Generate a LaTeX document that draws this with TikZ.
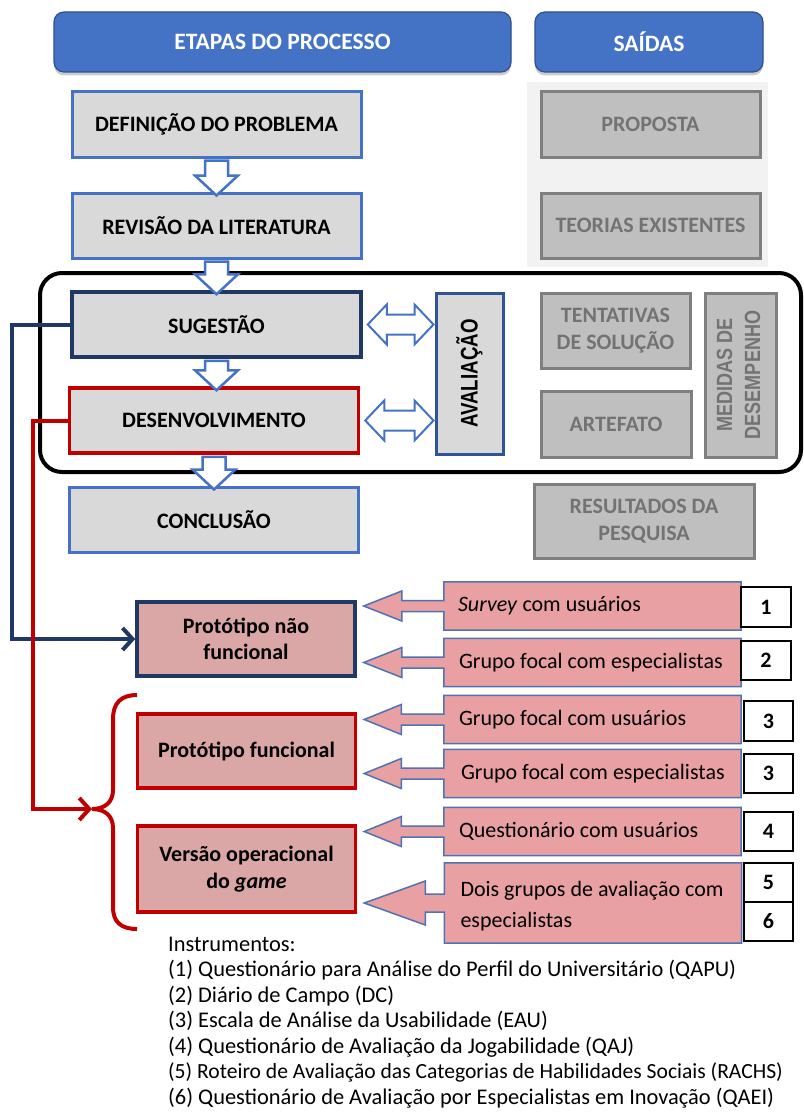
\documentclass[tikz,border=0pt]{standalone}
\usepackage{fontspec}
\setmainfont{Carlito}
\newfontfamily\arialfont{Liberation Sans}
\usetikzlibrary{calc,shadows,arrows.meta}
\definecolor{hdrblue}{HTML}{4472C4}
\definecolor{hdrborder}{HTML}{2F528F}
\definecolor{boxgray}{HTML}{D9D9D9}
\definecolor{midblue}{HTML}{4472C4}
\definecolor{cnavy}{HTML}{1F3864}
\definecolor{cdarkred}{HTML}{C00000}
\definecolor{avblue}{HTML}{2F5597}
\definecolor{outfill}{HTML}{BFBFBF}
\definecolor{outborder}{HTML}{7F7F7F}
\definecolor{outtext}{HTML}{737373}
\definecolor{cpanel}{HTML}{F2F2F2}
\definecolor{pinkfill}{HTML}{E8A0A3}
\definecolor{protofill}{HTML}{DAA6A6}
\definecolor{callborder}{HTML}{4F72B5}
\newcommand\fmain{\fontsize{22}{26.5}\selectfont}
\newcommand\flist{\fontsize{22.4}{26.5}\selectfont}
\newcommand\fhdr{\fontsize{23.5}{26}\selectfont}
\newcommand\favl{\arialfont\bfseries\fontsize{24}{28}\selectfont}
\newcommand\fmed{\arialfont\bfseries\fontsize{22}{28}\selectfont}
\pgfdeclarelayer{back}
\pgfdeclarelayer{bg}
\pgfsetlayers{back,bg,main}
\tikzset{
  hdr/.style={draw=hdrborder, line width=1.2, fill=hdrblue, rounded corners=10, text=white,
    font=\fhdr\bfseries, inner sep=0, drop shadow={opacity=0.4, shadow xshift=0pt, shadow yshift=-3.5pt}},
  etapa/.style={draw=midblue, line width=3, fill=boxgray, minimum width=289, minimum height=65,
    inner sep=0, font=\fmain\bfseries},
  saida/.style={draw=outborder, line width=3, fill=outfill, text=outtext, font=\fmain\bfseries,
    inner sep=0, align=center},
  blockar/.style={draw=midblue, line width=2.5, fill=white, line join=miter},
  proto/.style={fill=protofill, line width=3.5, minimum width=218, inner sep=0,
    font=\fmain\bfseries, align=center},
  callst/.style={draw=callborder, line width=1.5, fill=pinkfill, line join=miter},
  cbox/.style={minimum width=297, minimum height=48, inner sep=0},
  ctext/.style={anchor=west, inner sep=0, align=left, font=\fmain},
  numst/.style={draw=black, line width=1.8, fill=white, minimum width=49, minimum height=39,
    inner sep=0, font=\fmain\bfseries},
  instline/.style={anchor=base west, inner sep=0, font=\flist},
  linkblue/.style={draw=cnavy, line width=4, -{Straight Barb[length=10pt,width=22pt,line width=4pt]}},
  linkred/.style={draw=cdarkred, line width=4, -{Straight Barb[length=10pt,width=22pt,line width=4pt]}},
}
\newcommand\blockdown[2]{%
  \draw[blockar] ($(#1.south)+(-11.5,2)$) -- ($(#1.south)+(11.5,2)$)
    -- ($(#1.south |- #2.north)+(11.5,-16)$) -- ($(#1.south |- #2.north)+(21.5,-16)$)
    -- ($(#1.south |- #2.north)+(0,4)$) -- ($(#1.south |- #2.north)+(-21.5,-16)$)
    -- ($(#1.south |- #2.north)+(-11.5,-16)$) -- cycle;}
\newcommand\blockdouble[2]{%
  \coordinate (#1L) at ($(#1.east)+(5,0)$);
  \coordinate (#1R) at ($(#1.east -| #2.west)+(-1,0)$);
  \draw[blockar, line width=2] (#1L) -- ($(#1L)+(19,-20)$) -- ($(#1L)+(19,-10)$)
    -- ($(#1R)+(-19,-10)$) -- ($(#1R)+(-19,-20)$) -- (#1R) -- ($(#1R)+(-19,20)$)
    -- ($(#1R)+(-19,10)$) -- ($(#1L)+(19,10)$) -- ($(#1L)+(19,20)$) -- cycle;}
\newcommand\callout[5]{%
  \begin{pgfonlayer}{bg}
  \coordinate (#1T) at ($(#2.east |- #1.west)+(7,0)$);
  \draw[callst] (#1.north west) -- (#1.north east) -- (#1.south east) -- (#1.south west)
    -- ($(#1.west)+(0,#4)$) -- ($(#1T)+(#5,#4)$) -- ($(#1T)+(#5,#3)$) -- (#1T)
    -- ($(#1T)+(#5,-#3)$) -- ($(#1T)+(#5,-#4)$) -- ($(#1.west)+(0,-#4)$) -- cycle;
  \end{pgfonlayer}}
\begin{document}
\begin{tikzpicture}[x=1pt,y=-1pt]
\begin{pgfonlayer}{back}
\fill[white] (0,0) rectangle (803,1113);
\end{pgfonlayer}
\useasboundingbox (0,0) rectangle (803,1113);

% headers
\node[hdr, minimum width=457, minimum height=60] (hetapas) at (282.5,42) {ETAPAS DO PROCESSO};
\node[hdr, minimum width=228, minimum height=60] (hsaidas) at (649,42) {SAÍDAS};

% outputs panel
\node[fill=cpanel, minimum width=241, minimum height=185, inner sep=0] (painel) at (647.5,174.5) {};

% cycle frame
\node[draw=black, line width=4, rounded corners=22, minimum width=761, minimum height=199, inner sep=0] (ciclo) at (420.5,372.5) {};

% process steps
\node[etapa] (def) at (216.5,124.5) {DEFINIÇÃO DO PROBLEMA};
\node[etapa] (rev) at (216.5,225.5) {REVISÃO DA LITERATURA};
\node[etapa, draw=cnavy, line width=3.5] (sug) at (216.5,324.5) {SUGESTÃO};
\node[etapa, draw=cdarkred, line width=3.5] (des) at (214,420.5) {DESENVOLVIMENTO};
\node[etapa] (con) at (214,519.5) {CONCLUSÃO};

% evaluation
\node[draw=avblue, line width=3, fill=boxgray, minimum width=67, minimum height=161, inner sep=0] (aval) at (469.5,373.5) {};
\node[rotate=90, font=\favl, inner sep=0] (avaltxt) at (aval.center) {\scalebox{0.78}[1]{AVALIAÇÃO}};

% outputs
\node[saida, minimum width=219, minimum height=65] (prop) at (650.5,124.5) {PROPOSTA};
\node[saida, minimum width=219, minimum height=65] (teo) at (650.5,225.5) {TEORIAS EXISTENTES};
\node[saida, minimum width=149, minimum height=75] (tent) at (615.5,330.5) {TENTATIVAS\\DE SOLUÇÃO};
\node[saida, minimum width=150, minimum height=66] (art) at (616,424) {ARTEFATO};
\node[saida, minimum width=71, minimum height=164] (med) at (740.5,375) {};
\node[rotate=90, font=\fmed, text=outtext, inner sep=0] (medtxt) at (med.center)
  {\scalebox{0.82}[1]{\begin{tabular}{@{}c@{}}MEDIDAS DE\\DESEMPENHO\end{tabular}}};
\node[saida, minimum width=220, minimum height=74] (res) at (644,521) {RESULTADOS DA\\PESQUISA};

% block arrows
\blockdown{def}{rev}
\blockdown{rev}{sug}
\blockdown{sug}{des}
\blockdown{des}{con}
\blockdouble{sug}{aval}
\blockdouble{des}{aval}

% prototypes
\node[proto, draw=cnavy, minimum height=74] (pnf) at (246,639) {Protótipo não\\funcional};
\node[proto, draw=cdarkred, minimum height=74] (pf) at (246.5,751) {Protótipo funcional};
\node[proto, draw=cdarkred, minimum height=86] (vo) at (246.5,869) {Versão operacional\\do \textit{game}};

% brace
\coordinate (bracetip) at (92,809);
\draw[cdarkred, line width=4] (137,695) .. controls (121,695) and (113,703) .. (113,719)
  -- (113,790) .. controls (113,802) and (105,809) .. (bracetip)
  .. controls (105,809) and (113,816) .. (113,828)
  -- (113,907) .. controls (113,922) and (121,929) .. (137,929);

% connectors
\draw[linkblue] (sug.west) -- ++(-58,0) |- (pnf.west);
\draw[linkred] (des.west) -- ++(-35,0) |- (bracetip);

% instrument callouts
\node[cbox] (c1) at (592.5,606) {};
\node[cbox] (c2) at (592.5,662.5) {};
\node[cbox] (c3) at (592.5,719.5) {};
\node[cbox] (c4) at (592.5,773.5) {};
\node[cbox] (c5) at (592.5,831.5) {};
\node[cbox, minimum height=80] (c6) at (593,903) {};
\callout{c1}{pnf}{15}{5.5}{38}
\callout{c2}{pnf}{15}{5.5}{38}
\callout{c3}{pf}{15}{5.5}{37}
\callout{c4}{pf}{15}{5.5}{37}
\callout{c5}{vo}{15}{5.5}{37}
\callout{c6}{vo}{22}{9}{61}
\node[ctext] (c1t) at ($(c1.west)+(14,0)$) {\textit{Survey} com usuários};
\node[ctext] (c2t) at ($(c2.west)+(15,0)$) {Grupo focal com especialistas};
\node[ctext] (c3t) at ($(c3.west)+(15,0)$) {Grupo focal com usuários};
\node[ctext] (c4t) at ($(c4.west)+(17,0)$) {Grupo focal com especialistas};
\node[ctext] (c5t) at ($(c5.west)+(15,0)$) {Questionário com usuários};
\node[ctext, font=\fontsize{22}{31}\selectfont] (c6t) at ($(c6.west)+(16,3)$) {Dois grupos de avaliação com\\especialistas};

% numbers
\node[numst, minimum width=50, minimum height=40] (n1) at (766,607) {1};
\node[numst, minimum width=50] (n2) at (766,660.5) {2};
\node[numst, minimum height=40] (n3) at (768.5,721) {3};
\node[numst] (n3b) at (768.5,773.5) {3};
\node[numst] (n4) at (768.5,831.5) {4};
\node[numst] (n5) at (768.5,882.5) {5};
\node[numst] (n6) at (768.5,921.5) {6};

% instruments list
\node[instline] (i0) at (168,951) {Instrumentos:};
\node[instline] (i1) at (168,976.5) {(1) Questionário para Análise do Perfil do Universitário (QAPU)};
\node[instline] (i2) at (168,1002) {(2) Diário de Campo (DC)};
\node[instline] (i3) at (168,1027.5) {(3) Escala de Análise da Usabilidade (EAU)};
\node[instline] (i4) at (168,1053) {(4) Questionário de Avaliação da Jogabilidade (QAJ)};
\node[instline, font=\fontsize{21.6}{26.5}\selectfont] (i5) at (168,1078.5) {(5) Roteiro de Avaliação das Categorias de Habilidades Sociais (RACHS)};
\node[instline] (i6) at (168,1104) {(6) Questionário de Avaliação por Especialistas em Inovação (QAEI)};
\end{tikzpicture}
\end{document}
